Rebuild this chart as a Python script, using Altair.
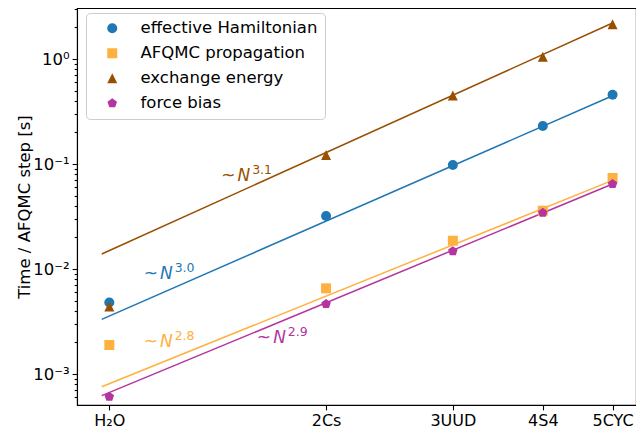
import json
import altair as alt
import pandas as pd

# ---------------- data ----------------
names = ["H₂O", "2Cs", "3UUD", "4S4", "5CYC"]
n_mol = [1, 2, 3, 4, 5]
series = ["effective Hamiltonian", "AFQMC propagation", "exchange energy", "force bias"]
colors = ["#1f77b4", "#ffb140", "#994f00", "#b4359f"]

eff_ham = [4.80e-3, 0.0320, 0.0979, 0.230, 0.457]
afqmc = [1.89e-3, 6.55e-3, 0.0186, 0.0359, 0.0736]
exchange = [4.40e-3, 0.122, 0.450, 1.05, 2.14]
force = [6.08e-4, 4.64e-3, 0.0148, 0.0344, 0.0645]

fit_exp = [3.0, 2.77, 3.1, 2.84]
fit_pref = [3.57e-3, 8.09e-4, 1.50e-2, 6.67e-4]
fit_range = [0.976, 5.0]

label_exp = ["3.0", "2.8", "3.1", "2.9"]
label_n = [1.116, 1.116, 1.430, 1.603]
label_t = [8.03e-3, 1.82e-3, 0.0689, 1.99e-3]

y_major = [1e-3, 1e-2, 1e-1, 1.0]
y_major_labels = ["10⁻³", "10⁻²", "10⁻¹", "10⁰"]
x_domain = [0.9018, 5.389]
y_domain = [5.07e-4, 3.06]
y_minor = [m * 10.0 ** e for e in range(-4, 1) for m in range(2, 10)]
y_minor = [v for v in y_minor if y_domain[0] <= v <= y_domain[1]]

# ---------------- tables ----------------
values = [eff_ham, afqmc, exchange, force]
pts = pd.DataFrame([
    {"series": s, "N": n, "t": v}
    for s, vals in zip(series, values)
    for n, v in zip(n_mol, vals)
])
fits = pd.DataFrame([
    {"series": s, "N": n, "t": p * n ** e}
    for s, e, p in zip(series, fit_exp, fit_pref)
    for n in fit_range
])
labels = pd.DataFrame({"series": series, "N": label_n, "t": label_t, "exp": label_exp})

tri = "M0,-1L-1,1L1,1Z"
pent = "M0,-1L0.951,-0.309L0.588,0.809L-0.588,0.809L-0.951,-0.309Z"
shapes = ["circle", "square", tri, pent]

FONT = "DejaVu Sans"
FS = 16.5
xs = alt.Scale(type="log", domain=x_domain, nice=False)
ys = alt.Scale(type="log", domain=y_domain, nice=False)
cs = alt.Scale(domain=series, range=colors)
ss = alt.Scale(domain=series, range=shapes)

x_label_expr = json.dumps(names, ensure_ascii=False) + "[round(datum.value) - 1]"
y_label_expr = json.dumps(y_major_labels, ensure_ascii=False) + "[round(log(datum.value) / LN10) + 3]"

x_axis = alt.Axis(values=n_mol, labelExpr=x_label_expr, title=None, tickSize=4.9,
                  labelPadding=2.5, labelFontSize=16, grid=False, orient="bottom")
y_axis_major = alt.Axis(values=y_major, labelExpr=y_label_expr, title="Time / AFQMC step [s]",
                        tickSize=4.9, labelPadding=3, titlePadding=0, grid=False, orient="left",
                        titleFontWeight="normal", titleFontSize=FS)
y_axis_minor = alt.Axis(values=y_minor, labels=False, title=None, tickSize=2.8,
                        domain=False, grid=False, orient="left")

legend = alt.Legend(orient="none", legendX=9, legendY=5, title=None, labelLimit=400)

X = alt.X("N:Q", scale=xs, axis=x_axis)
C = alt.Color("series:N", scale=cs, legend=legend, title=None)
S = alt.Shape("series:N", scale=ss, legend=legend, title=None)

lines = alt.Chart(fits).mark_line(strokeWidth=1.5, clip=True).encode(
    x=X,
    y=alt.Y("t:Q", scale=ys, axis=y_axis_minor),
    color=C,
    detail="series:N",
)

markers = alt.Chart(pts).mark_point(filled=True, size=100, opacity=1, strokeWidth=0).encode(
    x=X,
    y=alt.Y("t:Q", scale=ys, axis=y_axis_major),
    color=C,
    shape=S,
)

base_txt = alt.Chart(labels).encode(
    x=X,
    y=alt.Y("t:Q", scale=ys, axis=None),
    color=C,
)
tilde = base_txt.mark_text(font=FONT, fontSize=17, align="left", baseline="alphabetic").encode(
    text=alt.value("~"))
nlet = base_txt.mark_text(font=FONT, fontSize=17, fontStyle="italic", align="left",
                          baseline="alphabetic", dx=16.3).encode(text=alt.value("N"))
expo = base_txt.mark_text(font=FONT, fontSize=12.5, align="left", baseline="alphabetic",
                          dx=31, dy=-6.6).encode(text="exp:N")

chart = alt.layer(lines, markers, tilde, nlet, expo).resolve_axis(
    y="independent"
).properties(
    width=559, height=397,
    autosize=alt.AutoSizeParams(type="none"),
    padding={"left": 69, "top": 0, "right": 0, "bottom": 26},
).configure_view(
    stroke="black", strokeWidth=1.1
).configure_axis(
    labelFont=FONT, labelFontSize=FS, labelColor="black",
    titleFont=FONT, titleFontSize=FS, titleFontWeight="normal", titleColor="black",
    tickColor="black", domainColor="black", tickWidth=1.1, domainWidth=1.1,
).configure_legend(
    labelFont=FONT, labelFontSize=FS, labelColor="black", labelLimit=400,
    symbolSize=100, symbolOffset=11, labelOffset=20, rowPadding=8,
    padding=7, cornerRadius=4, strokeColor="#cccccc", fillColor="rgba(255,255,255,0.8)",
    symbolStrokeWidth=0,
)

chart.save("out.html", embed_options={"renderer": "svg", "actions": False})
